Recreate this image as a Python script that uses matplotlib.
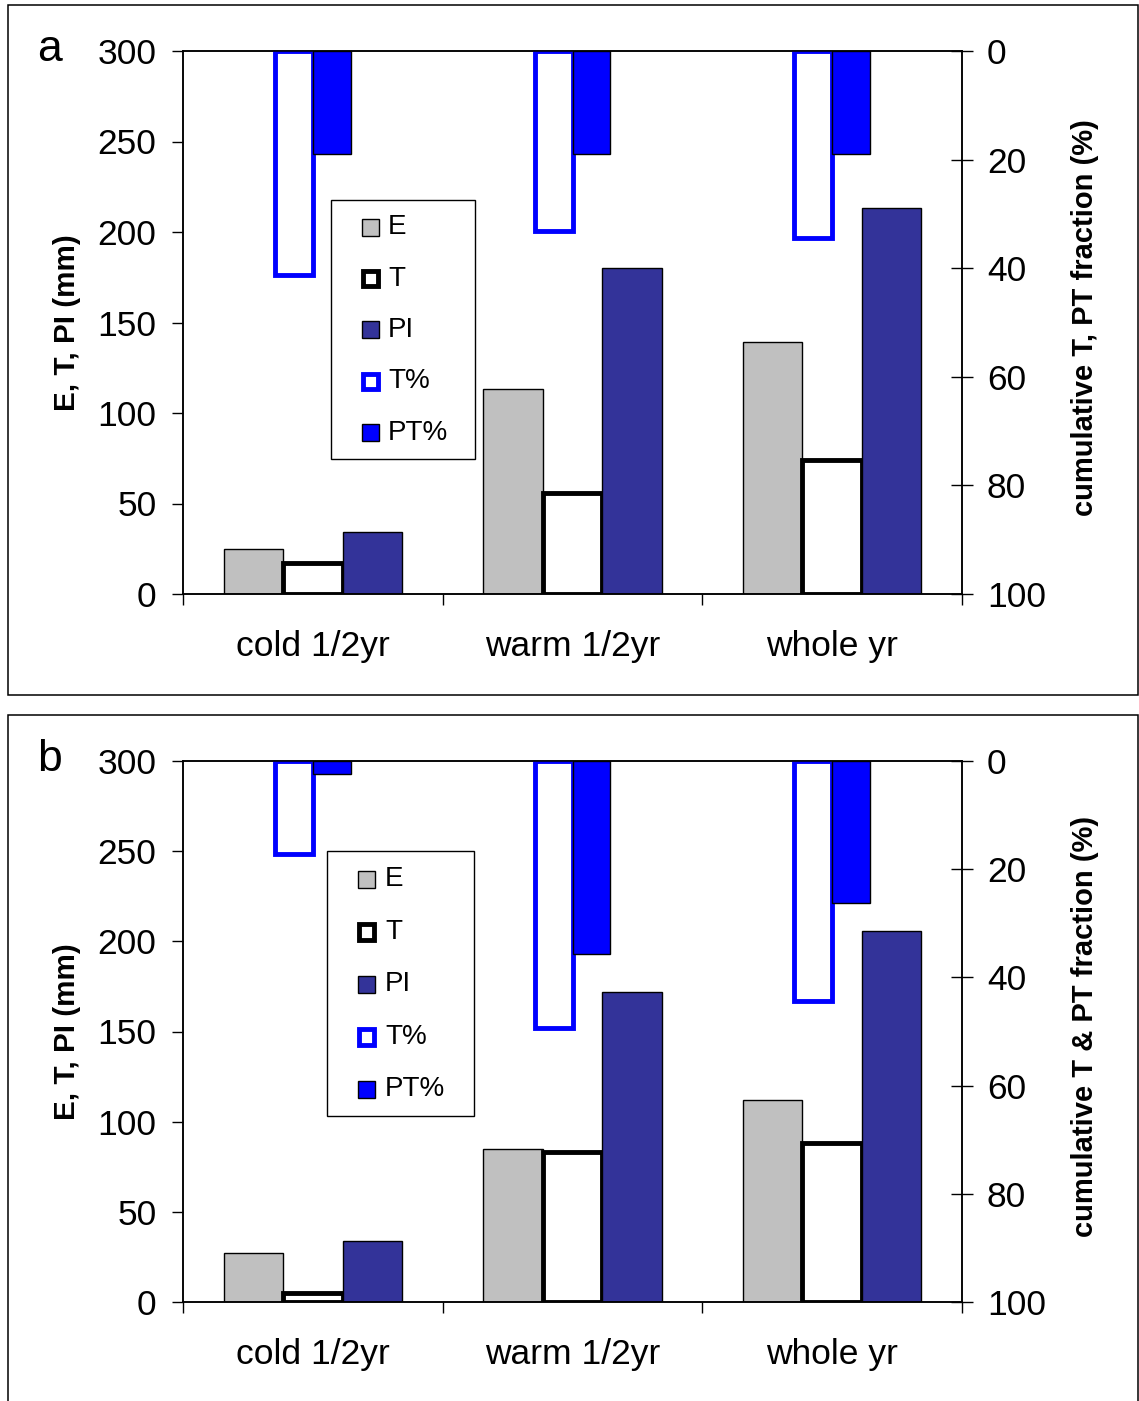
import matplotlib.pyplot as plt
from matplotlib.patches import Rectangle

plt.rcParams['font.family'] = ['Liberation Sans', 'DejaVu Sans']

categories = ["cold 1/2yr", "warm 1/2yr", "whole yr"]

# left axis: evaporation, transpiration, interception (mm)
e_a = [25, 113, 139]
t_a = [17, 56, 74]
pi_a = [34, 180, 213]
# right axis: cumulative fractions (%)
tpct_a = [41.3, 33.2, 34.5]
ptpct_a = [18.9, 18.9, 18.9]

e_b = [27, 85, 112]
t_b = [5, 83, 88]
pi_b = [34, 172, 206]
tpct_b = [17.2, 49.4, 44.3]
ptpct_b = [2.4, 35.7, 26.2]

left_ticks = [0, 50, 100, 150, 200, 250, 300]
right_ticks = [0, 20, 40, 60, 80, 100]

GRAY = "#C0C0C0"
NAVY = "#333399"
BLUE = "#0000FF"

legend_labels = ["E", "T", "PI", "T%", "PT%"]
legend_styles = [
    dict(facecolor=GRAY, edgecolor="black", linewidth=1.0),
    dict(facecolor="white", edgecolor="black", linewidth=3.5),
    dict(facecolor=NAVY, edgecolor="black", linewidth=1.0),
    dict(facecolor="white", edgecolor=BLUE, linewidth=3.5),
    dict(facecolor=BLUE, edgecolor="black", linewidth=1.0),
]


def draw_legend(ax, box, first_y, step, hx, tx, px_w, px_h):
    """Boxed legend with small square keys, placed in axes fraction."""
    x0, y0, x1, y1 = box
    ax.add_patch(Rectangle((x0, y0), x1 - x0, y1 - y0, transform=ax.transAxes,
                           facecolor="white", edgecolor="black", linewidth=1.0,
                           zorder=10, clip_on=False))
    for k, (lab, st) in enumerate(zip(legend_labels, legend_styles)):
        y = first_y - k * step
        size = 17 if st["linewidth"] < 2 else 15.5
        w, h = size / px_w, size / px_h
        cx = hx + 8.5 / px_w
        ax.add_patch(Rectangle((cx - w / 2, y - h / 2), w, h, transform=ax.transAxes,
                               zorder=11, clip_on=False, **st))
        ax.text(tx, y, lab, transform=ax.transAxes, fontsize=20, ha="left",
                va="center", zorder=12)


def draw_panel(fig, rect, letter, e, t, pi, tpct, ptpct, right_label, leg):
    ax = fig.add_axes(rect)
    x = range(len(categories))
    w = 0.229
    ax.bar([i - w for i in x], e, width=w, color=GRAY, edgecolor="black", linewidth=1.0, zorder=2)
    ax.bar(list(x), t, width=w, color="white", edgecolor="black", linewidth=3.5, zorder=2)
    ax.bar([i + w for i in x], pi, width=w, color=NAVY, edgecolor="black", linewidth=1.0, zorder=2)
    ax.set_xlim(-0.5, 2.5)
    ax.set_ylim(0, 300)
    ax.set_yticks(left_ticks)
    ax.tick_params(axis="y", direction="out", length=8, width=1, pad=11, labelsize=25.5)
    ax.set_xticks(list(x))
    ax.set_xticklabels(categories)
    ax.set_xticks([-0.5, 0.5, 1.5, 2.5], minor=True)
    ax.tick_params(axis="x", which="major", length=0, pad=26, labelsize=25.5)
    ax.tick_params(axis="x", which="minor", direction="out", length=8, width=1)
    ax.set_ylabel("E, T, PI (mm)", fontsize=21.3, fontweight="bold", labelpad=12)
    for s in ax.spines.values():
        s.set_linewidth(1.1)

    ax2 = ax.twinx()
    w2 = 0.146
    ax2.bar([i - w2 / 2 for i in x], tpct, width=w2, color="white", edgecolor=BLUE, linewidth=3.5, zorder=2)
    ax2.bar([i + w2 / 2 for i in x], ptpct, width=w2, color=BLUE, edgecolor="black", linewidth=1.0, zorder=2)
    ax2.set_ylim(100, 0)
    ax2.set_yticks(right_ticks)
    ax2.tick_params(axis="y", direction="inout", length=16, width=1, pad=10, labelsize=25.5)
    ax2.set_ylabel(right_label, fontsize=21, fontweight="bold", labelpad=18)
    ax2.yaxis.label.set_y(0.51)
    for s in ax2.spines.values():
        s.set_linewidth(1.1)

    px_w = rect[2] * 1139
    px_h = rect[3] * 1401
    draw_legend(ax2, *leg, px_w, px_h)

    fig.text(rect[0] - 0.128, rect[1] + rect[3] + 0.001, letter, fontsize=32,
             ha="left", va="center")
    return ax


fig = plt.figure(figsize=(11.39, 14.01), dpi=100)

# panel frames
fig.add_artist(Rectangle((8 / 1139, 1 - 695 / 1401), 1130 / 1139, 690 / 1401,
                         transform=fig.transFigure, fill=False, edgecolor="black", linewidth=1.1))
fig.add_artist(Rectangle((8 / 1139, -0.01), 1130 / 1139, 1 - 715 / 1401 + 0.01,
                         transform=fig.transFigure, fill=False, edgecolor="black", linewidth=1.1))

draw_panel(fig, [183 / 1139, 1 - 594 / 1401, 779 / 1139, 543 / 1401], "a",
           e_a, t_a, pi_a, tpct_a, ptpct_a, "cumulative T, PT fraction (%)",
           ((0.190, 0.2486, 0.375, 0.7256), 0.6750, 0.0944, 0.2298, 0.2632))
draw_panel(fig, [183 / 1139, 1 - 1302 / 1401, 779 / 1139, 541 / 1401], "b",
           e_b, t_b, pi_b, tpct_b, ptpct_b, "cumulative T & PT fraction (%)",
           ((0.1849, 0.3438, 0.3736, 0.8336), 0.7810, 0.0970, 0.2246, 0.2593))

fig.savefig("out.png", dpi=100)
